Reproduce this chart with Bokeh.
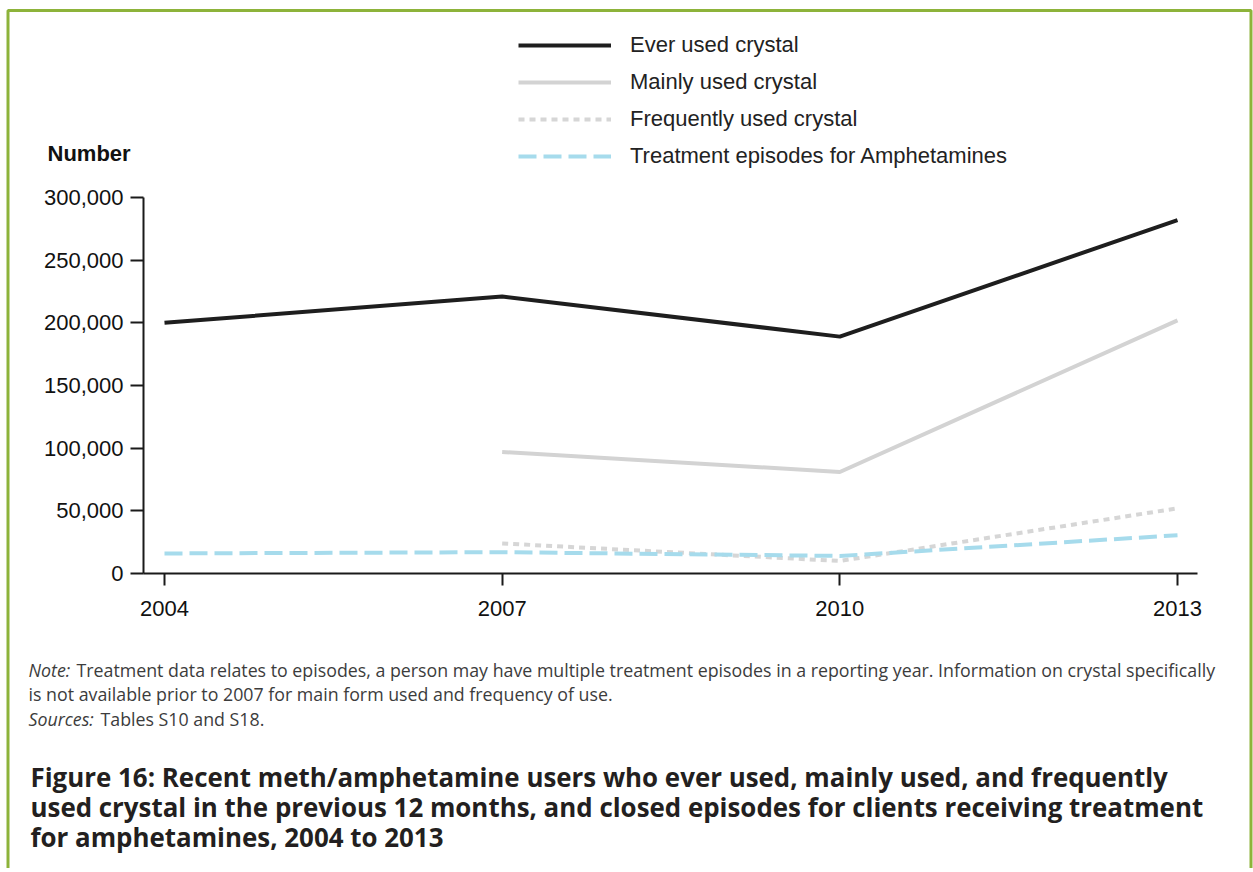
import numpy as np
from bokeh.plotting import figure
from bokeh.models import (Label, Legend, LegendItem, NumeralTickFormatter,
                          FixedTicker, Range1d, BoxAnnotation)
from bokeh.embed import file_html
from bokeh.resources import INLINE

# ---------------- data ----------------
years = [2004, 2007, 2010, 2013]
ever_used = [200000, 221000, 189000, 282000]
mainly_used = [np.nan, 97000, 81000, 202000]
frequently_used = [np.nan, 24000, 10000, 52000]
treatment = [16000, 17000, 14000, 30500]
y_tick_values = [0, 50000, 100000, 150000, 200000, 250000, 300000]
x_tick_values = years
series_names = ["Ever used crystal", "Mainly used crystal",
                "Frequently used crystal", "Treatment episodes for Amphetamines"]

# ---------------- layout (page px) ----------------
W, H = 1253, 868
PX_2004, PX_2013 = 164, 1177      # page x of first / last year
PY_0, PY_300K = 573, 197          # page y of 0 / 300,000
AXIS_L, AXIS_R = 143, 1197        # page x extent of x-axis line

yr_per_px = (x_tick_values[-1] - x_tick_values[0]) / (PX_2013 - PX_2004)
val_per_px = (y_tick_values[-1] - y_tick_values[0]) / (PY_0 - PY_300K)


def xdata(px):
    return x_tick_values[0] + (px - PX_2004) * yr_per_px


def ydata(py):
    return (PY_0 - py) * val_per_px


p = figure(output_backend="svg", toolbar_location=None, width=W, height=H,
           min_border=0, min_border_left=0, min_border_right=0,
           min_border_top=0, min_border_bottom=0,
           x_range=Range1d(xdata(0), xdata(W)), y_range=Range1d(ydata(H), ydata(0)))
p.outline_line_color = None
p.grid.visible = False
p.background_fill_color = "white"
p.border_fill_color = "white"

AX = "#1a1a1a"
for ax in (p.xaxis[0], p.yaxis[0]):
    ax.axis_line_color = AX
    ax.axis_line_width = 2
    ax.major_tick_line_color = AX
    ax.major_tick_line_width = 2
    ax.major_tick_in = 0
    ax.minor_tick_line_color = None
    ax.major_label_text_font = "Liberation Sans"
    ax.major_label_text_font_size = "22px"
    ax.major_label_text_color = "#111111"
p.yaxis[0].ticker = FixedTicker(ticks=y_tick_values)
p.yaxis[0].formatter = NumeralTickFormatter(format="0,0")
p.yaxis[0].major_tick_out = 13
p.yaxis[0].major_label_standoff = 7
p.yaxis[0].fixed_location = xdata(AXIS_L)
p.yaxis[0].bounds = (y_tick_values[0], y_tick_values[-1])
p.xaxis[0].ticker = FixedTicker(ticks=x_tick_values)
p.xaxis[0].major_tick_out = 12
p.xaxis[0].major_label_standoff = 15
p.xaxis[0].fixed_location = 0
p.xaxis[0].bounds = (xdata(AXIS_L), xdata(AXIS_R))

r1 = p.line(years, ever_used, line_color="#1e1e1e", line_width=4)
r2 = p.line(years, mainly_used, line_color="#d3d3d3", line_width=4)
r3 = p.line(years, frequently_used, line_color="#d6d6d6", line_width=4,
            line_dash="6 5")
r4 = p.line(years, treatment, line_color="#a6dbec", line_width=4,
            line_dash="18 7")

legend = Legend(items=[LegendItem(label=n, renderers=[r])
                       for n, r in zip(series_names, [r1, r2, r3, r4])],
                location=(518, H - 169),
                glyph_width=93, glyph_height=26, label_height=26,
                label_standoff=19, spacing=11, padding=0, margin=0,
                border_line_color=None, background_fill_alpha=0,
                label_text_font="Liberation Sans", label_text_font_size="22px",
                label_text_color="#222222")
p.add_layout(legend, "center")

# green frame round the figure panel (open at the bottom)
p.add_layout(BoxAnnotation(left=7.5, right=1250.5, top=H - 10, bottom=-100,
                           left_units="screen", right_units="screen",
                           top_units="screen", bottom_units="screen",
                           fill_alpha=0, line_color="#8db33a", line_alpha=1.0,
                           line_width=3))


def lab(px, py, text, font="Liberation Sans", size="20px", style="normal",
        color="#111111"):
    p.add_layout(Label(x=px, y=H - py, x_units="screen", y_units="screen",
                       text=text, text_font=font, text_font_size=size,
                       text_font_style=style, text_color=color,
                       text_baseline="middle", text_align="left"))


lab(47, 153, "Number", style="bold", size="22px")

NOTE_FONT = "Open Sans"
NOTE_C = "#3c3c3c"
NOTE_S = "17.8px"
lab(28, 669, "Note:", font=NOTE_FONT, size=NOTE_S, style="italic", color=NOTE_C)
lab(76, 669, "Treatment data relates to episodes, a person may have multiple treatment "
    "episodes in a reporting year. Information on crystal specifically",
    font=NOTE_FONT, size=NOTE_S, color=NOTE_C)
lab(28, 693, "is not available prior to 2007 for main form used and frequency of use.",
    font=NOTE_FONT, size=NOTE_S, color=NOTE_C)
lab(28, 718, "Sources:", font=NOTE_FONT, size=NOTE_S, style="italic", color=NOTE_C)
lab(100, 718, "Tables S10 and S18.", font=NOTE_FONT, size=NOTE_S, color=NOTE_C)

TITLE_C = "#231f20"
title_lines = ["Figure 16: Recent meth/amphetamine users who ever used, mainly used, and frequently",
               "used crystal in the previous 12 months, and closed episodes for clients receiving treatment",
               "for amphetamines, 2004 to 2013"]
for i, t in enumerate(title_lines):
    lab(30, 776 + 30 * i, t, font="Open Sans", size="25.9px", style="bold", color=TITLE_C)

open("out.html", "w").write(file_html(p, INLINE))
